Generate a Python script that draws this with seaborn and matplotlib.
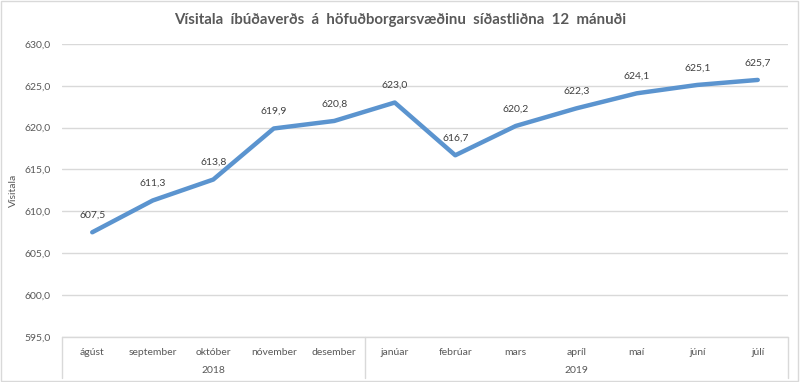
import matplotlib
matplotlib.use("Agg")
import matplotlib.pyplot as plt
import matplotlib.transforms as mtransforms
import pandas as pd
import seaborn as sns

months = ["ágúst", "september", "október", "nóvember", "desember", "janúar",
          "febrúar", "mars", "apríl", "maí", "júní", "júlí"]
values = [607.5, 611.3, 613.8, 619.9, 620.8, 623.0, 616.7, 620.2, 622.3, 624.1, 625.1, 625.7]
years = ["2018", "2019"]
year_counts = [5, 7]

df = pd.DataFrame({"pos": range(len(months)), "Vísitala": values})

sns.set_theme(style="white")
plt.rcParams["font.family"] = ["Lato", "DejaVu Sans"]
gray = "#595959"

fig = plt.figure(figsize=(8, 3.82), dpi=100)
ax = fig.add_axes([0.0775, 0.118, 0.9075, 0.767])

sns.lineplot(data=df, x="pos", y="Vísitala", ax=ax, color="#5b94cf", linewidth=3.2)

ax.set_xlim(-0.5, 11.5)
ax.set_ylim(595, 630)
ax.set_yticks(range(595, 631, 5))
ax.set_yticklabels([f"{v:.1f}".replace(".", ",") for v in range(595, 631, 5)],
                   fontsize=7.5, color=gray)
ax.tick_params(axis="y", length=0, pad=8)
ax.grid(axis="y", color="#d9d9d9", linewidth=1)
ax.set_axisbelow(True)
for s in ax.spines.values():
    s.set_visible(False)

ax.set_xticks(range(len(months)))
ax.set_xticklabels(months, fontsize=7.5, color=gray)
ax.tick_params(axis="x", length=0, pad=8)
ax.set_xlabel("")
ax.set_ylabel("Vísitala", fontsize=7.5, color=gray)
ax.yaxis.set_label_coords(-0.061, 0.5)

for i, v in enumerate(values):
    ax.annotate(f"{v:.1f}".replace(".", ","), (i, v), xytext=(0, 9),
                textcoords="offset points", ha="center", va="bottom",
                fontsize=7.5, color="#404040")

# multi-level category box
trans = mtransforms.blended_transform_factory(ax.transData, ax.transAxes)
ax.plot([-0.5, 11.5], [0, 0], transform=trans, color="#d9d9d9", lw=1, clip_on=False)
bounds = [-0.5]
for c in year_counts:
    bounds.append(bounds[-1] + c)
for b in bounds:
    ax.plot([b, b], [0, -0.14], transform=trans, color="#d9d9d9", lw=1, clip_on=False)
for y, a, b in zip(years, bounds[:-1], bounds[1:]):
    ax.text((a + b) / 2, -0.115, y, transform=trans, ha="center", va="center",
            fontsize=7.5, color=gray)

fig.suptitle("Vísitala  íbúðaverðs  á  höfuðborgarsvæðinu  síðastliðna  12  mánuði",
             x=0.5, y=0.967, fontsize=10.8, fontweight="bold", color=gray)

fig.patches.append(plt.Rectangle((0.001, 0.002), 0.997, 0.995, transform=fig.transFigure,
                                 fill=False, edgecolor="#d9d9d9", linewidth=1))

fig.savefig("out.png", dpi=100)
